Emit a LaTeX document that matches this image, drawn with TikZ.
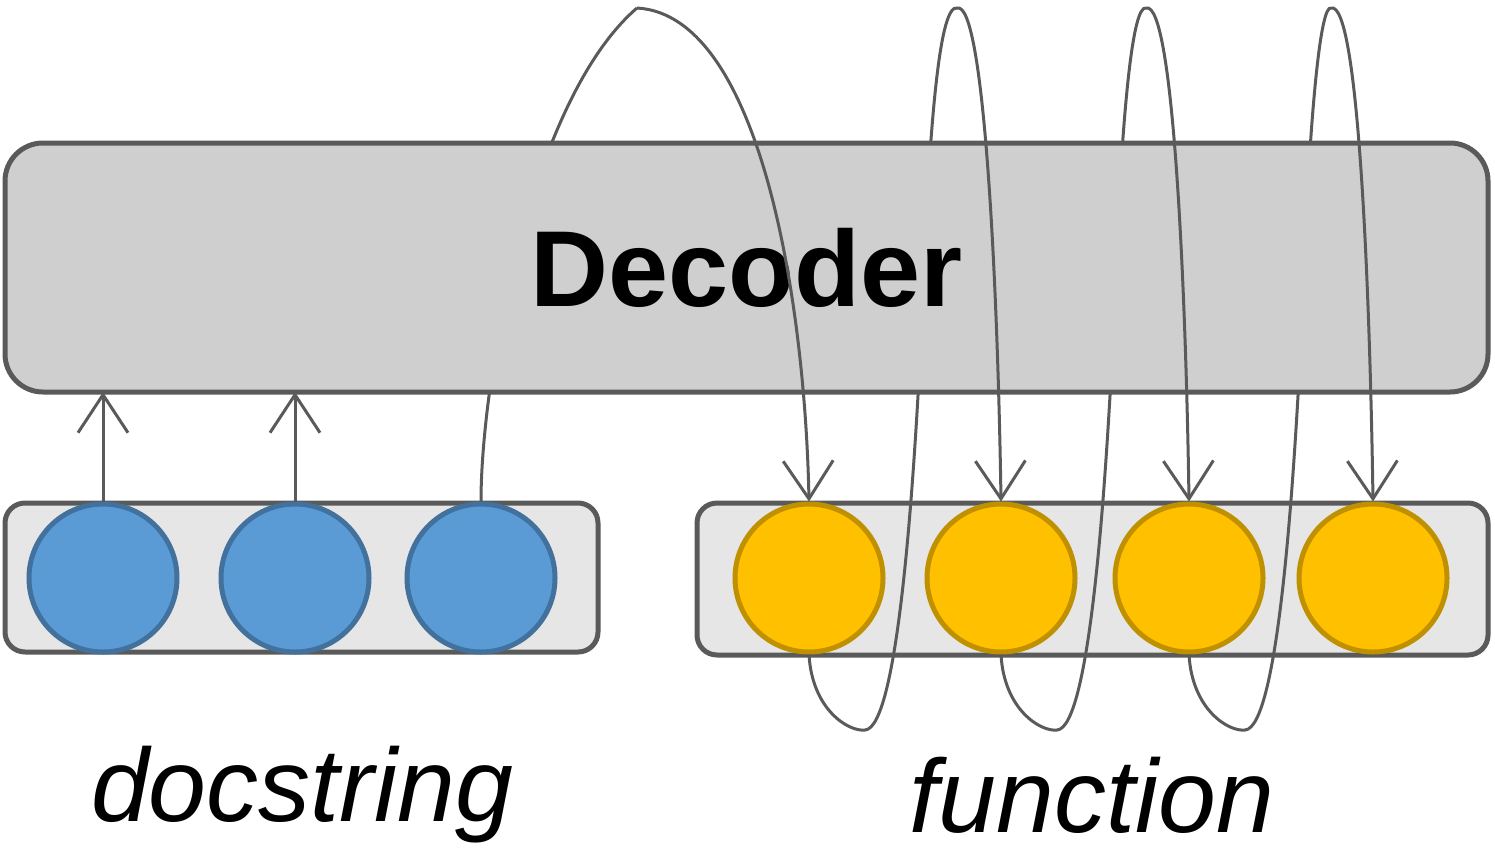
\documentclass[tikz,border=0pt]{standalone}
\usepackage{fontspec}
\setmainfont{Liberation Sans}
\usetikzlibrary{arrows.meta}
\definecolor{lc}{HTML}{5A5A5A}
\definecolor{dec}{HTML}{D0CFD0}
\definecolor{inbox}{HTML}{E6E6E6}
\definecolor{bluef}{HTML}{5B9BD5}
\definecolor{blueb}{HTML}{41719C}
\definecolor{yelf}{HTML}{FFC000}
\definecolor{yelb}{HTML}{BF9000}
\begin{document}
\begin{tikzpicture}[x=1pt,y=-1pt,
  box/.style={draw=lc,line width=5pt,fill=inbox,rounded corners=20pt},
  blue/.style={circle,draw=blueb,fill=bluef,line width=5pt,minimum size=148pt,inner sep=0},
  yel/.style={circle,draw=yelb,fill=yelf,line width=5pt,minimum size=148pt,inner sep=0},
  conn/.style={draw=lc,line width=3pt},
  arr/.style={conn,-{Straight Barb[length=38pt,width=50pt,line width=3pt]}}]
\useasboundingbox (0,0) rectangle (1495,857);
\draw[box] (5,503) rectangle (598,652);
\draw[box] (697,503) rectangle (1488,655);
\node[blue] (b1) at (103,578) {};
\node[blue] (b2) at (295,578) {};
\node[blue] (b3) at (481,578) {};
\node[yel] (y1) at (809,578) {};
\node[yel] (y2) at (1001,578) {};
\node[yel] (y3) at (1189,578) {};
\node[yel] (y4) at (1373,578) {};
\coordinate (p0) at (637,8);
\coordinate (p1) at (957,8);
\coordinate (p2) at (1146,8);
\coordinate (p3) at (1331,8);
% ascents (behind decoder)
\draw[conn] (b3.north) .. controls (481,380) and (530,100) .. (p0);
\foreach \a/\p/\x in {y1/p1/809,y2/p2/1001,y3/p3/1189}{
  \draw[conn] (\a.south) .. controls (\x+3,710) and (\x+40,732) .. (\x+56,730)
     .. controls (\x+90,728) and (\x+105,470) .. (\x+111,360)
     .. controls (\x+120,100) and (\x+132,5) .. (\p);
}
\node[draw=lc,line width=5pt,fill=dec,rounded corners=38pt,minimum width=1483pt,minimum height=249pt,
  font=\bfseries\fontsize{108}{108}\selectfont] (dec) at (746.5,267.5) {Decoder};
% descents
\draw[arr] (p0) .. controls (760,15) and (805,300) .. (y1.north);
\draw[arr] (p1) .. controls (985,0) and (998,300) .. (y2.north);
\draw[arr] (p2) .. controls (1174,0) and (1186,300) .. (y3.north);
\draw[arr] (p3) .. controls (1359,0) and (1370,300) .. (y4.north);
\draw[arr] (b1.north) -- (103,392);
\draw[arr] (b2.north) -- (295,392);
\node[font=\itshape\fontsize{104}{104}\selectfont] (t1) at (302,795) {docstring};
\node[font=\itshape\fontsize{104}{104}\selectfont] (t2) at (1092,795) {function};
\end{tikzpicture}
\end{document}
